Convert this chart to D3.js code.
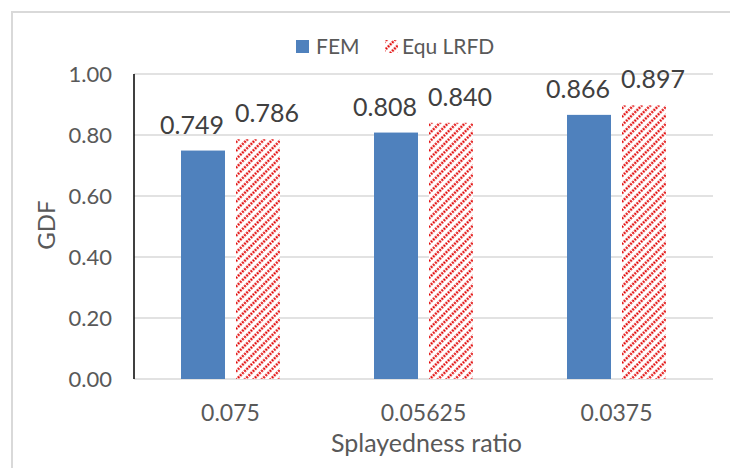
<!DOCTYPE html>
<html>
<head>
<meta charset="utf-8">
<script src="https://cdn.jsdelivr.net/npm/d3@7"></script>
<style>
  html, body { margin: 0; padding: 0; background: #fff; }
  svg { display: block; font-family: Lato, "Open Sans", sans-serif; }
</style>
</head>
<body>
<svg id="chart" width="730" height="468"></svg>
<script>
const categories = ["0.075", "0.05625", "0.0375"];
const seriesNames = ["FEM", "Equ LRFD"];
const femValues = [0.749, 0.808, 0.866];
const lrfdValues = [0.786, 0.840, 0.897];
const yTicks = [0, 0.2, 0.4, 0.6, 0.8, 1.0];
const yTitle = "GDF";
const xTitle = "Splayedness ratio";

const svg = d3.select("#chart");
const margin = { left: 134, right: 713, top: 74, bottom: 379 };

// frame
svg.append("rect")
  .attr("x", 12).attr("y", 12).attr("width", 760).attr("height", 500)
  .attr("fill", "#fff").attr("stroke", "#d9d9d9").attr("stroke-width", 2);

// hatch pattern
const defs = svg.append("defs");
const pat = defs.append("pattern")
  .attr("id", "hatch").attr("patternUnits", "userSpaceOnUse")
  .attr("width", 6).attr("height", 6)
  .attr("patternTransform", "rotate(45)");
pat.append("rect").attr("width", 6).attr("height", 6).attr("fill", "#fff");
pat.append("line")
  .attr("x1", 1.5).attr("y1", 0).attr("x2", 1.5).attr("y2", 6)
  .attr("stroke", "#e00000").attr("stroke-width", 2.2)
  .attr("stroke-dasharray", "2,1");

const x0 = d3.scaleBand().domain(categories).range([margin.left, margin.right]).paddingInner(0).paddingOuter(0);
const groupW = 99;
const x1 = d3.scaleBand().domain(seriesNames).range([0, groupW]).paddingInner(0.2).paddingOuter(0);
const y = d3.scaleLinear().domain([0, 1]).range([margin.bottom, margin.top]);

// gridlines
svg.append("g").selectAll("line").data(yTicks).join("line")
  .attr("x1", margin.left).attr("x2", margin.right)
  .attr("y1", d => y(d)).attr("y2", d => y(d))
  .attr("stroke", "#d9d9d9").attr("stroke-width", 1.5);

// y tick labels
svg.append("g").selectAll("text").data(yTicks).join("text")
  .attr("x", 112).attr("y", d => y(d)).attr("dy", "0.35em")
  .attr("text-anchor", "end").attr("fill", "#595959").attr("font-size", 22)
  .text(d => d3.format(".2f")(d));

// bars
const data = categories.map((c, i) => ({ cat: c, vals: [femValues[i], lrfdValues[i]] }));
const groups = svg.append("g").selectAll("g").data(data).join("g")
  .attr("transform", d => `translate(${x0(d.cat) + x0.bandwidth() / 2 - groupW / 2},0)`);
groups.selectAll("rect").data(d => d.vals.map((v, j) => ({ s: seriesNames[j], v })))
  .join("rect")
  .attr("x", d => x1(d.s)).attr("width", x1.bandwidth())
  .attr("y", d => y(d.v)).attr("height", d => y(0) - y(d.v))
  .attr("fill", d => d.s === "FEM" ? "#4f81bd" : "url(#hatch)");
const labelShift = { "FEM": -11, "Equ LRFD": 9 };
groups.selectAll("text").data(d => d.vals.map((v, j) => ({ s: seriesNames[j], v })))
  .join("text")
  .attr("x", d => x1(d.s) + x1.bandwidth() / 2 + labelShift[d.s])
  .attr("y", d => y(d.v) - 17)
  .attr("text-anchor", "middle").attr("fill", "#404040").attr("font-size", 25)
  .text(d => d3.format(".3f")(d.v));

// y axis line
svg.append("line")
  .attr("x1", margin.left).attr("x2", margin.left)
  .attr("y1", margin.top).attr("y2", margin.bottom)
  .attr("stroke", "#000").attr("stroke-width", 1.5);

// x category labels
svg.append("g").selectAll("text").data(categories).join("text")
  .attr("x", d => x0(d) + x0.bandwidth() / 2).attr("y", 421)
  .attr("text-anchor", "middle").attr("fill", "#595959").attr("font-size", 23)
  .text(d => d);

// axis titles
svg.append("text")
  .attr("x", (margin.left + margin.right) / 2 + 3).attr("y", 452)
  .attr("text-anchor", "middle").attr("fill", "#595959").attr("font-size", 25)
  .text(xTitle);
svg.append("text")
  .attr("transform", `translate(55,225) rotate(-90)`)
  .attr("text-anchor", "middle").attr("fill", "#595959").attr("font-size", 24)
  .text(yTitle);

// legend
const legend = svg.append("g");
const legendItems = [
  { name: seriesNames[0], fill: "#4f81bd", x: 296, tx: 316 },
  { name: seriesNames[1], fill: "url(#hatch)", x: 385, tx: 402 }
];
legend.selectAll("rect").data(legendItems).join("rect")
  .attr("x", d => d.x).attr("y", 40).attr("width", 13).attr("height", 13)
  .attr("fill", d => d.fill);
legend.selectAll("text").data(legendItems).join("text")
  .attr("x", d => d.tx).attr("y", 47).attr("dy", "0.35em")
  .attr("fill", "#595959").attr("font-size", 21)
  .text(d => d.name);
</script>
</body>
</html>
